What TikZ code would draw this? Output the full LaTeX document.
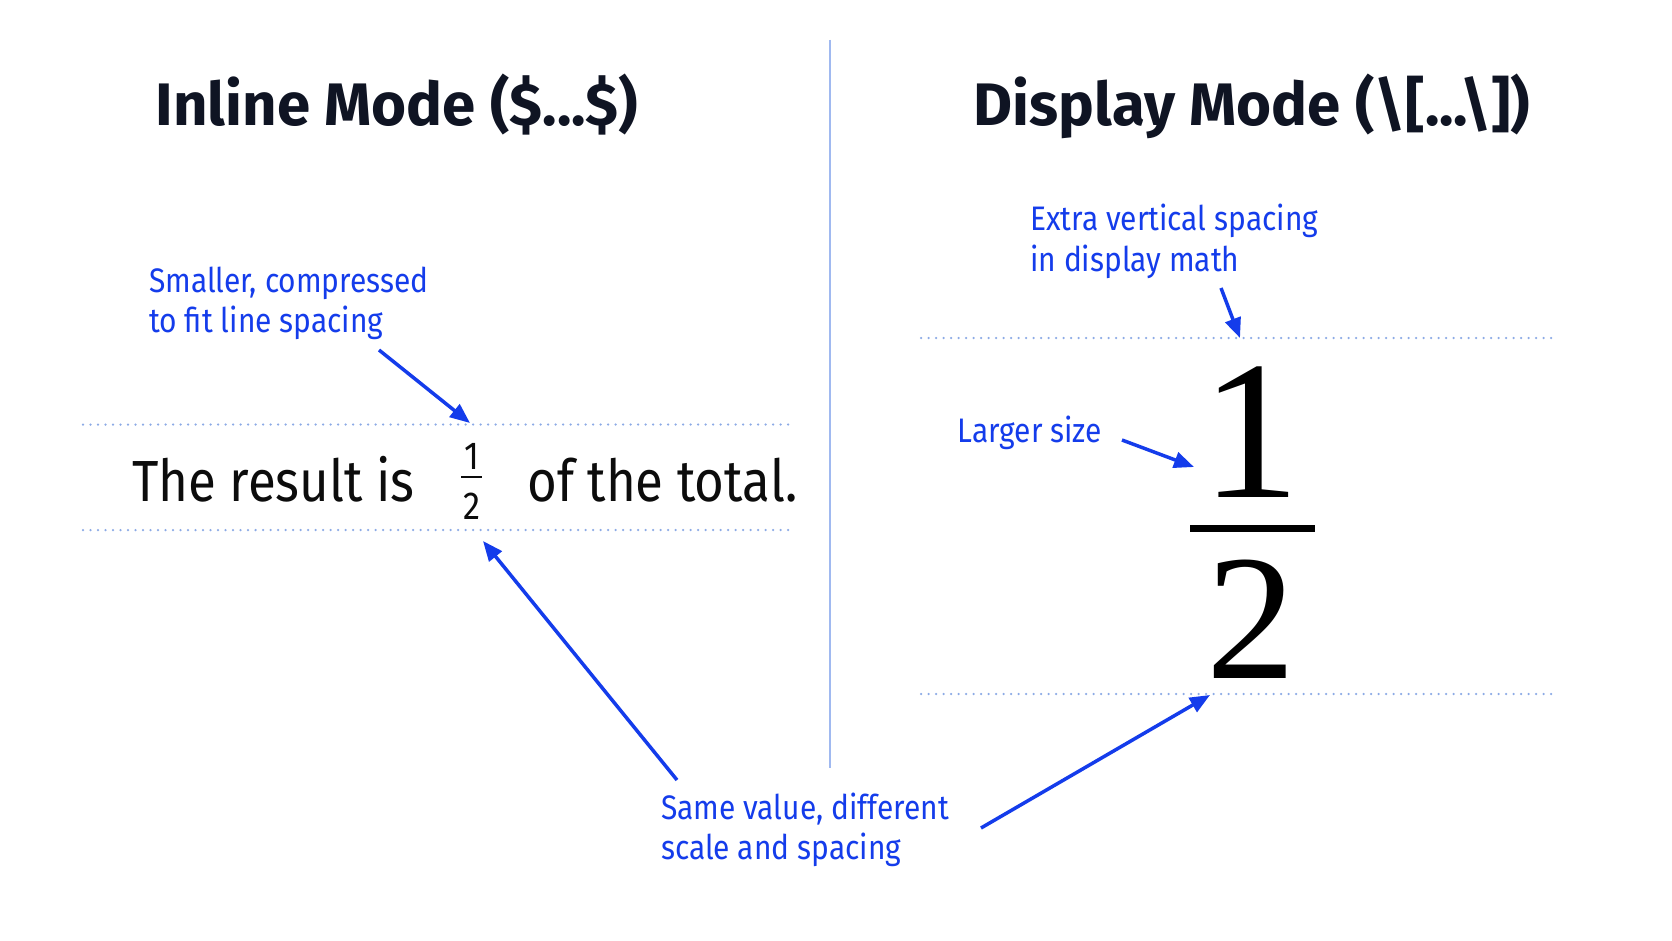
\documentclass[tikz,border=0pt]{standalone}
\usepackage{fontspec}
\usetikzlibrary{arrows.meta}
\newfontfamily\fira[FakeStretch=0.88]{Fira Sans}
\newfontfamily\firattl{Fira Sans}
\newfontfamily\serifnum{Liberation Serif}
\definecolor{annoblue}{RGB}{20,60,235}
\definecolor{guideblue}{RGB}{140,170,230}
\definecolor{vline}{RGB}{160,185,240}
\definecolor{titlecol}{RGB}{15,20,35}
\definecolor{bodycol}{RGB}{12,12,12}
\begin{document}
\begin{tikzpicture}[x=1pt,y=-1pt,
  anno/.style={font=\fira\fontsize{34}{40}\selectfont, text=annoblue, inner sep=0pt, anchor=base west},
  ttl/.style={font=\firattl\bfseries\fontsize{60}{60}\selectfont, text=titlecol, inner sep=0pt, anchor=base},
  body/.style={font=\fira\fontsize{58}{58}\selectfont, text=bodycol, inner sep=0pt, anchor=base west},
  smallfrac/.style={font=\fira\fontsize{39}{39}\selectfont, text=bodycol, inner sep=0pt, anchor=base},
  bigfrac/.style={font=\serifnum\fontsize{198}{198}\selectfont, text=black, inner sep=0pt, anchor=base},
  guide/.style={draw=guideblue, line width=2.5pt, line cap=round, dash pattern=on 0pt off 7.5pt},
  callout/.style={draw=annoblue, line width=3.5pt, -{Triangle[length=20pt,width=16pt]}},
]
\useasboundingbox (0,0) rectangle (1672,941);
\fill[white] (0,0) rectangle (1672,941);

% divider
\coordinate (vtop) at (830,40);
\coordinate (vbot) at (830,768);
\draw[vline, line width=1.6pt] (vtop) -- (vbot);

% titles
\node[ttl] (tl) at (397,126) {Inline Mode (\$...\$)};
\node[ttl] (tr) at (1252,126) {Display Mode (\textbackslash[...\textbackslash])};

% left guides
\coordinate (lg1a) at (83,424.5); \coordinate (lg1b) at (789,424.5);
\coordinate (lg2a) at (83,530);   \coordinate (lg2b) at (789,530);
\draw[guide] (lg1a) -- (lg1b);
\draw[guide] (lg2a) -- (lg2b);

% right guides
\coordinate (rg1a) at (921,338); \coordinate (rg1b) at (1555,338);
\coordinate (rg2a) at (921,694); \coordinate (rg2b) at (1555,694);
\draw[guide] (rg1a) -- (rg1b);
\draw[guide] (rg2a) -- (rg2b);

% inline sentence
\node[body] (res) at (132,501) {The result is};
\node[smallfrac] (sn) at (471.5,469.5) {1};
\coordinate (sba) at (461,477); \coordinate (sbb) at (482,477);
\draw[bodycol, line width=2.4pt] (sba) -- (sbb);
\node[smallfrac] (sd) at (471.5,519) {2};
\node[body] (tot) at (527,501) {of the total.};

% display fraction
\node[bigfrac] (bn) at (1251,497) {1};
\coordinate (bba) at (1190,528); \coordinate (bbb) at (1315,528);
\draw[black, line width=7pt] (bba) -- (bbb);
\node[bigfrac, font=\serifnum\fontsize{179}{179}\selectfont] (bd) at (1251,678) {2};

% annotations
\node[anno] (a1) at (149,292) {Smaller, compressed};
\node[anno] (a1b) at (149,332) {to fit line spacing};
\node[anno] (a2) at (1030,231) {Extra vertical spacing};
\node[anno] (a2b) at (1030,271) {in display math};
\node[anno] (a3) at (957.5,442.5) {Larger size};
\node[anno] (a4) at (661,819) {Same value, different};
\node[anno] (a4b) at (661,859) {scale and spacing};

% callout arrows
\coordinate (c1s) at (379,350);  \coordinate (c1e) at (470,423);
\coordinate (c2s) at (677,780);  \coordinate (c2e) at (483,541);
\coordinate (c3s) at (981,828);  \coordinate (c3e) at (1210,695);
\coordinate (c4s) at (1221,288); \coordinate (c4e) at (1240,338);
\coordinate (c5s) at (1122,440); \coordinate (c5e) at (1194,467);
\draw[callout] (c1s) -- (c1e);
\draw[callout] (c2s) -- (c2e);
\draw[callout] (c3s) -- (c3e);
\draw[callout] (c4s) -- (c4e);
\draw[callout] (c5s) -- (c5e);
\end{tikzpicture}
\end{document}
